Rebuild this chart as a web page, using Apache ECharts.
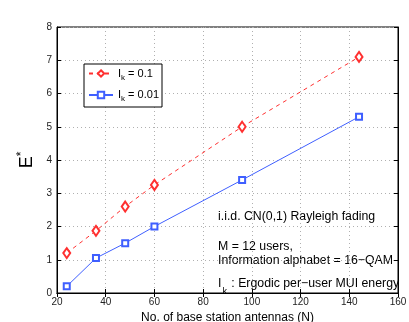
<!DOCTYPE html>
<html>
<head>
<meta charset="utf-8">
<script src="https://cdn.jsdelivr.net/npm/echarts@6/dist/echarts.min.js"></script>
<style>
  html, body { margin: 0; padding: 0; background: #fff; }
  #chart { width: 409px; height: 322px; }
</style>
</head>
<body>
<div id="chart"></div>
<script>
// antennas N
const antennas = [24, 36, 48, 60, 96, 144];
// E* for I_k = 0.1 and I_k = 0.01
const energyIk01 = [1.2, 1.87, 2.6, 3.25, 5.0, 7.1];
const energyIk001 = [0.2, 1.05, 1.5, 2.0, 3.4, 5.3];
const seriesNames = ['I_k = 0.1', 'I_k = 0.01'];

const FONT = 'Liberation Sans';
const chart = echarts.init(document.getElementById('chart'));

const pair = (xs, ys) => xs.map((x, i) => [x, ys[i]]);

const gridLine = { show: true, lineStyle: { color: '#b0b0b0', type: [1, 3], width: 1 } };

chart.setOption({
  animation: false,
  grid: {
    left: 57, right: 11, top: 27, bottom: 29,
    outerBoundsMode: 'none', containLabel: false,
    show: true, borderColor: '#000', borderWidth: 1, backgroundColor: 'transparent'
  },
  legend: {
    orient: 'vertical',
    left: 84, top: 64,
    itemWidth: 24, itemHeight: 8, itemGap: 8,
    padding: [4, 3, 4, 4],
    backgroundColor: '#fff',
    borderColor: '#000', borderWidth: 1, borderRadius: 0,
    formatter: name => name === seriesNames[0] ? '{a|I}{b|k}{a| = 0.1}' : '{a|I}{b|k}{a| = 0.01}',
    textStyle: {
      rich: {
        a: { fontFamily: FONT, fontSize: 11, color: '#000' },
        b: { fontFamily: FONT, fontSize: 8, color: '#000', padding: [8, 0, 0, 0] }
      }
    },
    data: seriesNames
  },
  xAxis: [{
    type: 'value', min: 20, max: 160, interval: 20,
    name: 'No. of base station antennas (N)', nameLocation: 'middle', nameGap: 13,
    nameTextStyle: { fontFamily: FONT, fontSize: 12, color: '#000' },
    axisLine: { show: true, onZero: false, lineStyle: { color: '#000' } },
    axisTick: { show: true, inside: true, length: 4, lineStyle: { color: '#000' } },
    axisLabel: { fontFamily: FONT, fontSize: 10, color: '#222', margin: 4 },
    splitLine: gridLine
  }, {
    type: 'value', position: 'top', min: 20, max: 160, interval: 20,
    axisLine: { show: true, lineStyle: { color: '#000' } },
    axisTick: { show: true, inside: true, length: 4, lineStyle: { color: '#000' } },
    axisLabel: { show: false }, splitLine: { show: false }
  }],
  yAxis: [{
    type: 'value', min: 0, max: 8, interval: 1,
    name: '{e|E}{s|*}', nameLocation: 'middle', nameGap: 18,
    nameTextStyle: {
      rich: {
        e: { fontFamily: FONT, fontSize: 18, color: '#000' },
        s: { fontFamily: FONT, fontSize: 12, color: '#000', padding: [0, 0, 10, 0] }
      }
    },
    axisLine: { show: true, lineStyle: { color: '#000' } },
    axisTick: { show: true, inside: true, length: 4, lineStyle: { color: '#000' } },
    axisLabel: { fontFamily: FONT, fontSize: 10, color: '#222', margin: 5 },
    splitLine: gridLine
  }, {
    type: 'value', position: 'right', min: 0, max: 8, interval: 1,
    axisLine: { show: true, lineStyle: { color: '#000' } },
    axisTick: { show: true, inside: true, length: 4, lineStyle: { color: '#000' } },
    axisLabel: { show: false }, splitLine: { show: false }
  }],
  series: [{
    name: seriesNames[0], type: 'line',
    data: pair(antennas, energyIk01),
    symbol: 'emptyDiamond', symbolSize: [7, 10],
    color: '#ff3030',
    lineStyle: { color: '#ff3030', width: 1, type: [4, 4] },
    itemStyle: { color: '#ff3030', borderColor: '#ff3030', borderWidth: 0.8 }
  }, {
    name: seriesNames[1], type: 'line',
    data: pair(antennas, energyIk001),
    symbol: 'emptyRect', symbolSize: 6,
    color: '#3f5fff',
    lineStyle: { color: '#3f5fff', width: 1 },
    itemStyle: { color: '#3f5fff', borderColor: '#3f5fff', borderWidth: 0.8 }
  }],
  graphic: [{
    type: 'text', left: 218, top: 211,
    style: { text: 'i.i.d. CN(0,1) Rayleigh fading', font: '12.3px ' + FONT, fill: '#000' }
  }, {
    type: 'text', left: 218, top: 240,
    style: { text: 'M = 12 users,\nInformation alphabet = 16\u2212QAM', font: '12.3px ' + FONT, fill: '#000', lineHeight: 14 }
  }, {
    type: 'text', left: 218, top: 278,
    style: {
      text: '{a|I}{b|k}{a| : Ergodic per\u2212user MUI energy}',
      rich: {
        a: { fontFamily: FONT, fontSize: 12.3, fill: '#000', verticalAlign: 'top' },
        b: { fontFamily: FONT, fontSize: 9, fill: '#000', verticalAlign: 'top', padding: [9, 1, 0, 1] }
      }
    }
  }]
});
</script>
</body>
</html>
